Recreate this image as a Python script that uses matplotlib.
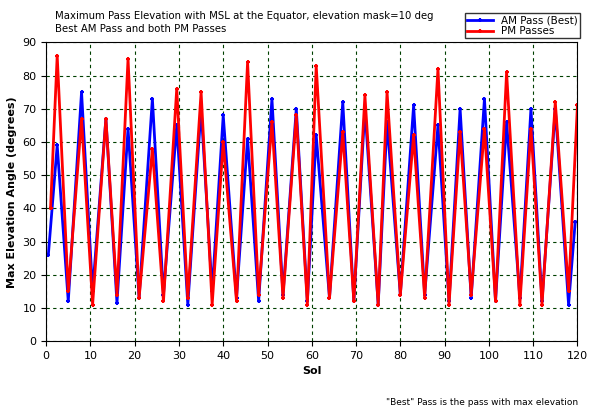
import numpy as np
import matplotlib.pyplot as plt

# peak / trough sols and values
am_sol = [0.5, 2.5, 5, 8, 10.5, 13.5, 16, 18.5, 21, 24, 26.5, 29.5, 32, 35, 37.5, 40, 43, 45.5, 48, 51,
          53.5, 56.5, 59, 61, 64, 67, 69.5, 72, 75, 77, 80, 83, 85.5, 88.5, 91, 93.5, 96, 99, 101.5,
          104, 107, 109.5, 112, 115, 118, 119.5]
am_val = [26, 59, 12, 75, 15, 67, 11.5, 64, 13, 73, 14, 65, 11, 70, 15, 68, 13, 61, 12, 73,
          14, 70, 12, 62, 13, 72, 12, 70, 11, 66, 14, 71, 14, 65, 12, 70, 13, 73, 12,
          66, 13, 70, 12, 70, 11, 36]
pm_sol = [1, 2.5, 5, 8, 10.5, 13.5, 16, 18.5, 21, 24, 26.5, 29.5, 32, 35, 37.5, 40, 43, 45.5, 48, 51,
          53.5, 56.5, 59, 61, 64, 67, 69.5, 72, 75, 77, 80, 83, 85.5, 88.5, 91, 93.5, 96, 99, 101.5,
          104, 107, 109.5, 112, 115, 118, 120]
pm_val = [40, 86, 15, 67, 11, 67, 14, 85, 13, 58, 12, 76, 13, 75, 11, 60, 12, 84, 14, 66,
          13, 68, 11, 83, 13, 63, 12, 74, 11, 75, 14, 62, 13, 82, 11, 63, 14, 64, 12,
          81, 11, 64, 11, 72, 15, 71]

fig = plt.figure(figsize=(5.99, 4.15), dpi=100)
ax = fig.add_axes([0.077, 0.178, 0.887, 0.72])
ax.plot(am_sol, am_val, color="#0000ff", lw=2, marker="+", ms=3.5, mew=1.5, label="AM Pass (Best)")
ax.plot(pm_sol, pm_val, color="#ff0000", lw=2, marker="+", ms=3.5, mew=1.5, label="PM Passes")
ax.set_xlim(0, 120)
ax.set_ylim(0, 90)
ax.set_xticks(range(0, 121, 10))
ax.set_yticks(range(0, 91, 10))
ax.grid(True, color="#004000", ls=(0, (3, 3)), lw=0.8)
ax.tick_params(labelsize=8)
ax.set_xlabel("Sol", fontsize=8, fontweight="bold")
ax.set_ylabel("Max Elevation Angle (degrees)", fontsize=8, fontweight="bold")
fig.text(0.092, 0.955, "Maximum Pass Elevation with MSL at the Equator, elevation mask=10 deg", fontsize=7.3)
fig.text(0.092, 0.922, "Best AM Pass and both PM Passes", fontsize=7.3)
fig.text(0.965, 0.025, "\"Best\" Pass is the pass with max elevation", fontsize=6.5, ha="right")
ax.legend(loc="upper right", bbox_to_anchor=(1.015, 1.115), fontsize=7.5, frameon=True, fancybox=False,
          edgecolor="black", handlelength=2.5, borderpad=0.2, labelspacing=0.1)
fig.savefig("out.png", dpi=100, facecolor="white")
